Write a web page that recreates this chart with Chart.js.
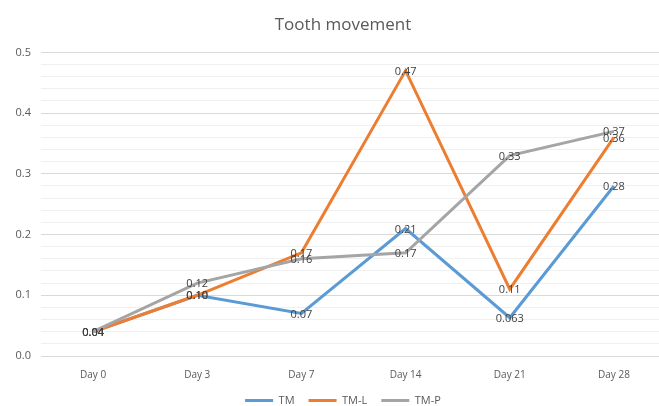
<!DOCTYPE html>
<html>
<head>
<meta charset="utf-8">
<script src="https://cdn.jsdelivr.net/npm/chart.js@4/dist/chart.umd.min.js"></script>
<style>
    html,body{margin:0;padding:0;background:#fff;overflow:hidden;}
    #wrap{width:668px;height:416px;}
</style>
</head>
<body>
<div id="wrap"><canvas id="toothChart" width="668" height="416"></canvas></div>
<script>

/* ===== DATA ===== */
const days = ["Day 0","Day 3","Day 7","Day 14","Day 21","Day 28"];
const tm  = [0.04, 0.10, 0.07, 0.21, 0.063, 0.28];
const tmL = [0.04, 0.10, 0.17, 0.47, 0.11, 0.36];
const tmP = [0.04, 0.12, 0.16, 0.17, 0.33, 0.37];

const FONT = "'Open Sans', 'Noto Sans', sans-serif";

function isMajor(v){
    return Math.abs(v*10 - Math.round(v*10)) < 1e-6;
}

function fmt(v){
    const s = String(v);
    const dec = s.includes(".") ? s.split(".")[1].length : 0;
    return v.toFixed(Math.max(2,dec));
}

/* value labels on top of every line */
const valueLabels = {
    id:"valueLabels",
    afterDatasetsDraw(chart){
        const ctx = chart.ctx;
        ctx.save();
        ctx.font = "11px " + FONT;
        ctx.fillStyle = "#404040";
        ctx.textAlign = "center";
        ctx.textBaseline = "middle";
        chart.data.datasets.forEach((ds,i)=>{
            const meta = chart.getDatasetMeta(i);
            meta.data.forEach((pt,j)=>{
                ctx.fillText(fmt(ds.data[j]), pt.x, pt.y + 1);
            });
        });
        ctx.restore();
    }
};

/* title and legend sit a bit right of the canvas centre */
const shiftBlocks = {
    id:"shiftBlocks",
    afterLayout(chart){
        [chart.titleBlock, chart.legend].forEach(b=>{
            if(!b) return;
            b.left += 10;
            b.right += 10;
        });
    }
};

function series(label,data,color,order){
    return {
        label:label,
        data:data,
        borderColor:color,
        backgroundColor:color,
        pointBorderColor:color,
        pointBorderWidth:3,
        order:order
    };
}

new Chart(document.getElementById("toothChart"),{
    type:"line",
    data:{
        labels:days,
        datasets:[
            series("TM",   tm,  "#5B9BD5", 3),
            series("TM-L", tmL, "#ED7D31", 2),
            series("TM-P", tmP, "#A5A5A5", 1)
        ]
    },
    options:{
        responsive:false,
        animation:false,
        layout:{padding:{left:0,right:2,top:0,bottom:0}},
        elements:{
            line:{borderWidth:3, tension:0},
            point:{radius:0, hoverRadius:0}
        },
        plugins:{
            title:{
                display:true,
                text:"Tooth movement",
                color:"#595959",
                font:{family:FONT,size:17,weight:"normal"},
                padding:{top:15,bottom:17}
            },
            legend:{
                position:"bottom",
                labels:{
                    usePointStyle:true,
                    pointStyle:"line",
                    pointStyleWidth:28,
                    color:"#595959",
                    font:{family:FONT,size:11},
                    padding:14,
                    sort:(a,b)=>a.datasetIndex-b.datasetIndex
                }
            },
            tooltip:{enabled:false}
        },
        scales:{
            x:{
                offset:true,
                grid:{display:false},
                border:{display:false},
                ticks:{color:"#595959",font:{family:FONT,size:10},padding:5},
                afterFit(scale){ scale.height = 25; }
            },
            y:{
                min:0,
                max:0.5,
                border:{display:false},
                grid:{
                    drawTicks:false,
                    color:(c)=> isMajor(c.tick.value) ? "#d9d9d9" : "#f0f0f0",
                    lineWidth:1
                },
                ticks:{
                    stepSize:0.02,
                    autoSkip:false,
                    padding:10,
                    color:"#595959",
                    font:{family:FONT,size:11},
                    callback:(v)=> isMajor(v) ? v.toFixed(1) : ""
                },
                afterFit(scale){ scale.width = 41; }
            }
        }
    },
    plugins:[valueLabels, shiftBlocks]
});
</script>
</body>
</html>
